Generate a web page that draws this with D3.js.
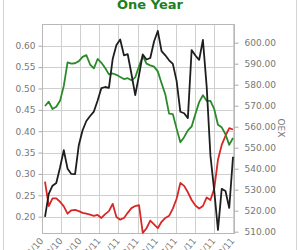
<!DOCTYPE html>
<html>
<head>
<meta charset="utf-8">
<script src="https://cdn.jsdelivr.net/npm/d3@7"></script>
<style>
  html, body { margin: 0; padding: 0; background: #fff; }
  svg { display: block; }
  text { font-family: "DejaVu Sans", Verdana, sans-serif; }
</style>
</head>
<body>
<div id="chart"></div>
<script>
// ---- data (weekly, one year) ----
const greenSeries = [0.459,0.469,0.452,0.457,0.471,0.506,0.561,0.558,0.559,0.564,
  0.574,0.578,0.556,0.547,0.569,0.560,0.548,0.533,0.535,0.532,
  0.527,0.522,0.524,0.519,0.526,0.552,0.576,0.558,0.554,0.551,
  0.540,0.512,0.486,0.441,0.440,0.406,0.374,0.386,0.402,0.411,
  0.440,0.468,0.484,0.471,0.471,0.452,0.415,0.409,0.393,0.368,0.384];

const redSeries = [0.282,0.225,0.243,0.243,0.235,0.224,0.207,0.215,0.216,0.213,
  0.209,0.207,0.205,0.202,0.204,0.197,0.206,0.213,0.230,0.199,
  0.193,0.197,0.209,0.220,0.225,0.227,0.162,0.173,0.191,0.182,
  0.173,0.188,0.197,0.202,0.219,0.242,0.279,0.272,0.257,0.239,
  0.226,0.219,0.225,0.245,0.239,0.265,0.333,0.368,0.389,0.407,0.404];

const oexSeries = [517.1,528.0,531.9,533.2,540.6,548.8,540.0,537.5,537.4,551.3,
  558.3,562.7,565.1,567.2,572.5,578.4,578.9,578.5,592.2,598.9,
  601.5,594.0,594.5,585.1,575.0,584.4,594.4,592.0,592.7,600.6,
  605.6,596.0,594.0,591.6,589.9,581.8,567.1,566.4,564.1,596.5,
  593.9,591.8,601.3,579.1,546.2,529.7,510.8,530.4,529.4,521.3,545.7];

const xTickLabels = ["09/24/10","10/29/10","12/03/10","01/07/11","02/11/11","03/18/11",
  "04/22/11","05/27/11","07/01/11","08/05/11","09/09/11"];
const leftTicks = [0.20,0.25,0.30,0.35,0.40,0.45,0.50,0.55,0.60];
const rightTicks = [510,520,530,540,550,560,570,580,590,600];
const titleText = "One Year";
const rightAxisTitle = "OEX";

// ---- layout ----
const W = 300, H = 250;
const L = 42, R = 235, T = 24, B = 234;

const svg = d3.select("#chart").append("svg").attr("width", W).attr("height", H);

// outer frame
svg.append("line").attr("x1",3.5).attr("x2",3.5).attr("y1",0).attr("y2",H).attr("stroke","#d4d4d4");
svg.append("line").attr("x1",296.5).attr("x2",296.5).attr("y1",0).attr("y2",H).attr("stroke","#d4d4d4");

// title
svg.append("text").attr("x",150).attr("y",9).attr("text-anchor","middle")
  .attr("font-size",13).attr("font-weight","bold").attr("fill","#1c801c").text(titleText);

const idx = d3.range(greenSeries.length);
const x = d3.scaleLinear().domain([0, idx.length - 1]).range([45, 233]);
const xTick = d3.scalePoint().domain(xTickLabels).range([L, 233]);
const yL = d3.scaleLinear().domain([0.1595, 0.6508]).range([B, T]);
const yR = d3.scaleLinear().domain([508.9, 608.9]).range([B, T]);

// gridlines
const grid = svg.append("g").attr("stroke","#cfcfcf").attr("stroke-width",1);
leftTicks.forEach(v => {
  const yy = Math.round(yL(v)) + 0.5;
  grid.append("line").attr("x1",L).attr("x2",R).attr("y1",yy).attr("y2",yy);
});
xTickLabels.forEach(t => {
  const xx = Math.round(xTick(t)) + 0.5;
  grid.append("line").attr("x1",xx).attr("x2",xx).attr("y1",T).attr("y2",B);
});

// frame of plot
svg.append("rect").attr("x",L+0.5).attr("y",T+0.5).attr("width",R-L-1).attr("height",B-T-1)
  .attr("fill","none").attr("stroke","#b8b8b8");

// left axis
const leftAxis = d3.axisLeft(yL).tickValues(leftTicks).tickFormat(d3.format(".2f")).tickSize(4).tickPadding(3);
const gL = svg.append("g").attr("transform",`translate(${L+0.5},0)`).call(leftAxis);
gL.select(".domain").remove();
gL.selectAll("line").attr("stroke","#aaa");
gL.selectAll("text").attr("font-size",9).attr("fill","#777").attr("font-family","DejaVu Sans, Verdana, sans-serif");

// right axis
const rightAxis = d3.axisRight(yR).tickValues(rightTicks).tickFormat(d3.format(".2f")).tickSize(4).tickPadding(6);
const gR = svg.append("g").attr("transform",`translate(${R-0.5},0)`).call(rightAxis);
gR.select(".domain").remove();
gR.selectAll("line").attr("stroke","#aaa");
gR.selectAll("text").attr("font-size",9).attr("fill","#777").attr("font-family","DejaVu Sans, Verdana, sans-serif");

svg.append("text").attr("transform","translate(278,128) rotate(90)").attr("text-anchor","middle")
  .attr("font-size",9).attr("fill","#777").text(rightAxisTitle);

// x tick labels
svg.append("g").selectAll("text").data(xTickLabels).join("text")
  .attr("transform", d => `translate(${xTick(d)+2},241) rotate(-50)`)
  .attr("text-anchor","end").attr("font-size",9).attr("fill","#777").text(d => d);

// lines
const lineL = s => d3.line().x((d,i) => x(i)).y(d => yL(d))(s);
const lineR = s => d3.line().x((d,i) => x(i)).y(d => yR(d))(s);

svg.append("path").attr("d", lineL(redSeries)).attr("fill","none").attr("stroke","#d92626").attr("stroke-width",1.8).attr("stroke-linejoin","round");
svg.append("path").attr("d", lineL(greenSeries)).attr("fill","none").attr("stroke","#2a8a2a").attr("stroke-width",1.8).attr("stroke-linejoin","round");
svg.append("path").attr("d", lineR(oexSeries)).attr("fill","none").attr("stroke","#1e1e1e").attr("stroke-width",1.8).attr("stroke-linejoin","round");
</script>
</body>
</html>
